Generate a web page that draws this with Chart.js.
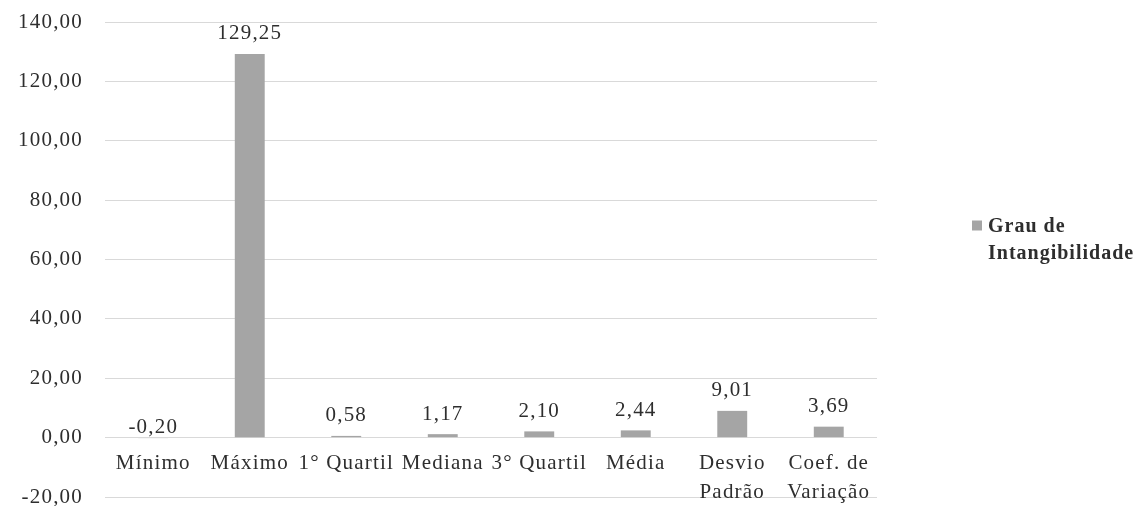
<!DOCTYPE html>
<html>
<head>
<meta charset="utf-8">
<script src="https://cdn.jsdelivr.net/npm/chart.js@4/dist/chart.umd.min.js"></script>
<style>
  html, body { margin: 0; padding: 0; background: #ffffff; }
  #wrap { width: 1139px; height: 506px; position: relative; }
</style>
</head>
<body>
<div id="wrap"><canvas id="c"></canvas></div>
<script>
// Estatísticas descritivas do grau de intangibilidade
const categories = ['Mínimo', 'Máximo', '1° Quartil', 'Mediana', '3° Quartil', 'Média', ['Desvio', 'Padrão'], ['Coef. de', 'Variação']];
const values = [-0.20, 129.25, 0.58, 1.17, 2.10, 2.44, 9.01, 3.69];
const seriesLines = ['Grau de', 'Intangibilidade'];
const yTicks = [-20, 0, 20, 40, 60, 80, 100, 120, 140];

const TEXT = '#2e2e2e';
const BAR = '#a5a5a5';
const FONT = 'Liberation Serif, "Times New Roman", serif';
const SPACING = '1.2px';

const fmt = v => v.toFixed(2).replace('.', ',');

// Slight letter spacing, set before measuring and before drawing
const spacing = {
  id: 'spacing',
  beforeUpdate(chart) { chart.ctx.letterSpacing = SPACING; },
  beforeLayout(chart) { chart.ctx.letterSpacing = SPACING; },
  beforeDraw(chart) { chart.ctx.letterSpacing = SPACING; }
};

// Value labels above each bar
const valueLabels = {
  id: 'valueLabels',
  afterDatasetsDraw(chart) {
    const ctx = chart.ctx;
    const meta = chart.getDatasetMeta(0);
    const zeroY = chart.scales.y.getPixelForValue(0);
    ctx.save();
    ctx.letterSpacing = SPACING;
    ctx.font = '21px ' + FONT;
    ctx.fillStyle = TEXT;
    ctx.textAlign = 'center';
    ctx.textBaseline = 'middle';
    meta.data.forEach((bar, i) => {
      const v = chart.data.datasets[0].data[i];
      const y = v >= 0 ? bar.y - 20 : zeroY - 10;
      ctx.fillText(fmt(v), bar.x, y);
    });
    ctx.restore();
  }
};

// Series key on the right side
const sideLegend = {
  id: 'sideLegend',
  afterDraw(chart) {
    const ctx = chart.ctx;
    const area = chart.chartArea;
    const x = area.right + 95;
    const y = (area.top + area.bottom) / 2 - 34;
    ctx.save();
    ctx.fillStyle = chart.data.datasets[0].backgroundColor;
    ctx.fillRect(x, y - 5, 10, 10);
    ctx.letterSpacing = '1px';
    ctx.font = 'bold 20px ' + FONT;
    ctx.fillStyle = TEXT;
    ctx.textAlign = 'left';
    ctx.textBaseline = 'middle';
    seriesLines.forEach((line, i) => ctx.fillText(line, x + 16, y + 1 + i * 27));
    ctx.restore();
  }
};

new Chart(document.getElementById('c'), {
  type: 'bar',
  data: {
    labels: categories,
    datasets: [{
      label: seriesLines.join(' '),
      data: values,
      backgroundColor: BAR,
      borderWidth: 0,
      barPercentage: 0.31,
      categoryPercentage: 1
    }]
  },
  options: {
    responsive: true,
    maintainAspectRatio: false,
    animation: false,
    layout: { padding: { top: 22, right: 262, bottom: 9, left: 0 } },
    plugins: {
      legend: { display: false },
      tooltip: { enabled: false }
    },
    scales: {
      x: {
        position: { y: 0 },
        afterFit(scale) { scale.height = 0; },
        grid: { display: false, drawTicks: false },
        border: { display: false },
        ticks: {
          padding: 12,
          maxRotation: 0,
          autoSkip: false,
          color: TEXT,
          font: { family: FONT, size: 21, lineHeight: 1.35 }
        }
      },
      y: {
        min: -20,
        max: 140,
        afterBuildTicks(scale) { scale.ticks = yTicks.map(v => ({ value: v })); },
        afterFit(scale) { scale.width = 105; },
        grid: { color: '#d9d9d9', lineWidth: 1, drawTicks: true, tickLength: 22, tickColor: 'rgba(0,0,0,0)' },
        border: { display: false },
        ticks: {
          padding: 0,
          color: TEXT,
          font: { family: FONT, size: 21, lineHeight: 0.85 },
          callback: v => fmt(v)
        }
      }
    }
  },
  plugins: [spacing, valueLabels, sideLegend]
});
</script>
</body>
</html>
